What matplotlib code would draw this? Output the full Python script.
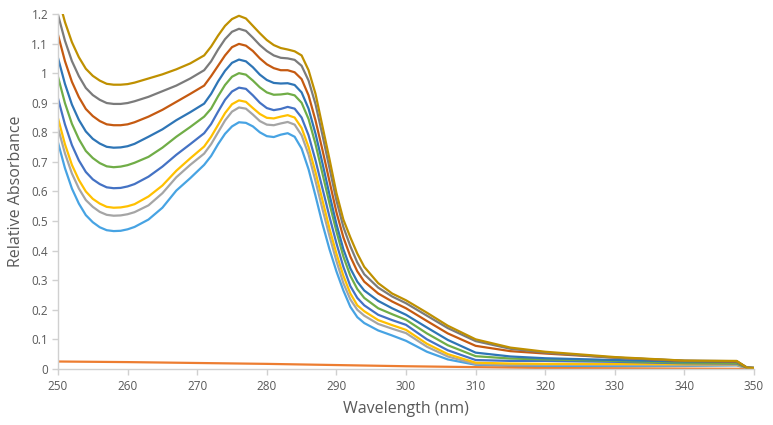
import matplotlib
matplotlib.use("Agg")
import matplotlib.pyplot as plt
from matplotlib.ticker import FuncFormatter

plt.rcParams['font.family'] = ['Open Sans', 'DejaVu Sans']

# Wavelength grid (nm)
wavelength = [250, 251, 252, 253, 254, 255, 256, 257, 258, 259, 260, 261,
              263, 265, 267, 269, 271,
              272, 273, 274, 275, 276, 277, 278, 279, 280, 281, 282, 283, 284, 285, 286, 287,
              288, 289, 290, 291, 292, 293, 294,
              296, 298, 300, 303, 306, 310, 315, 320, 330, 340, 347.5, 349, 350]

light_blue = [0.766, 0.679, 0.610, 0.559, 0.520, 0.496, 0.479, 0.469, 0.466, 0.467, 0.472, 0.480,
              0.505, 0.545, 0.603, 0.645, 0.690,
              0.720, 0.760, 0.795, 0.820, 0.834, 0.832, 0.820, 0.800, 0.787, 0.784, 0.792, 0.797,
              0.785, 0.745, 0.675, 0.585, 0.490, 0.405, 0.330, 0.265, 0.210, 0.175, 0.155,
              0.130, 0.113, 0.095, 0.058, 0.032, 0.014, 0.010, 0.009, 0.009, 0.010, 0.012, 0.003, 0.003]
gray_light = [0.815, 0.729, 0.661, 0.610, 0.571, 0.548, 0.531, 0.521, 0.518, 0.519, 0.523, 0.530,
              0.553, 0.594, 0.648, 0.690, 0.728,
              0.760, 0.800, 0.840, 0.870, 0.884, 0.880, 0.860, 0.838, 0.826, 0.824, 0.830, 0.835,
              0.826, 0.790, 0.725, 0.635, 0.540, 0.450, 0.365, 0.290, 0.235, 0.200, 0.180,
              0.152, 0.136, 0.121, 0.075, 0.042, 0.016, 0.014, 0.014, 0.013, 0.012, 0.013, 0.003, 0.003]
yellow = [0.848, 0.760, 0.690, 0.639, 0.600, 0.575, 0.559, 0.548, 0.545, 0.546, 0.550, 0.557,
          0.583, 0.620, 0.670, 0.712, 0.752,
          0.785, 0.825, 0.865, 0.895, 0.908, 0.903, 0.882, 0.862, 0.849, 0.847, 0.853, 0.858,
          0.850, 0.815, 0.750, 0.665, 0.570, 0.475, 0.390, 0.315, 0.255, 0.215, 0.195,
          0.165, 0.148, 0.132, 0.085, 0.050, 0.021, 0.018, 0.017, 0.017, 0.016, 0.016, 0.004, 0.003]
blue = [0.915, 0.827, 0.757, 0.705, 0.666, 0.641, 0.625, 0.614, 0.611, 0.612, 0.617, 0.625,
        0.650, 0.684, 0.724, 0.760, 0.797,
        0.828, 0.870, 0.910, 0.938, 0.951, 0.947, 0.925, 0.900, 0.882, 0.875, 0.879, 0.886,
        0.880, 0.850, 0.790, 0.705, 0.610, 0.515, 0.425, 0.345, 0.280, 0.240, 0.215,
        0.183, 0.165, 0.149, 0.100, 0.063, 0.030, 0.027, 0.027, 0.024, 0.019, 0.018, 0.004, 0.003]
green = [0.988, 0.899, 0.829, 0.777, 0.737, 0.713, 0.696, 0.685, 0.682, 0.684, 0.689, 0.697,
         0.717, 0.748, 0.785, 0.818, 0.853,
         0.880, 0.922, 0.960, 0.988, 1.000, 0.995, 0.975, 0.952, 0.935, 0.927, 0.928, 0.931,
         0.925, 0.900, 0.845, 0.760, 0.660, 0.560, 0.465, 0.380, 0.315, 0.270, 0.240,
         0.205, 0.185, 0.166, 0.120, 0.080, 0.043, 0.035, 0.032, 0.027, 0.021, 0.020, 0.004, 0.003]
dark_blue = [1.052, 0.964, 0.894, 0.842, 0.803, 0.778, 0.762, 0.751, 0.748, 0.749, 0.753, 0.761,
             0.785, 0.810, 0.841, 0.868, 0.897,
             0.930, 0.972, 1.008, 1.035, 1.046, 1.040, 1.020, 0.995, 0.977, 0.967, 0.965, 0.966,
             0.960, 0.935, 0.880, 0.795, 0.695, 0.590, 0.490, 0.405, 0.340, 0.295, 0.265,
             0.230, 0.205, 0.183, 0.140, 0.098, 0.055, 0.042, 0.036, 0.030, 0.025, 0.024, 0.004, 0.003]
brown = [1.130, 1.041, 0.971, 0.919, 0.879, 0.855, 0.838, 0.827, 0.824, 0.824, 0.827, 0.834,
         0.853, 0.876, 0.903, 0.930, 0.958,
         0.990, 1.025, 1.060, 1.088, 1.099, 1.093, 1.075, 1.050, 1.030, 1.017, 1.010, 1.010,
         1.003, 0.980, 0.925, 0.840, 0.740, 0.635, 0.530, 0.445, 0.380, 0.330, 0.295,
         0.255, 0.228, 0.205, 0.162, 0.120, 0.078, 0.060, 0.052, 0.038, 0.027, 0.025, 0.004, 0.003]
dark_gray = [1.198, 1.110, 1.041, 0.990, 0.950, 0.926, 0.910, 0.899, 0.896, 0.896, 0.899, 0.905,
             0.920, 0.939, 0.958, 0.982, 1.010,
             1.040, 1.080, 1.115, 1.140, 1.150, 1.143, 1.120, 1.095, 1.075, 1.060, 1.052, 1.050,
             1.045, 1.025, 0.975, 0.895, 0.790, 0.680, 0.570, 0.480, 0.415, 0.360, 0.320,
             0.275, 0.245, 0.222, 0.180, 0.138, 0.094, 0.068, 0.055, 0.038, 0.028, 0.026, 0.004, 0.003]
gold = [1.260, 1.173, 1.105, 1.054, 1.015, 0.991, 0.975, 0.964, 0.961, 0.961, 0.963, 0.968,
        0.982, 0.996, 1.013, 1.033, 1.060,
        1.090, 1.127, 1.160, 1.183, 1.194, 1.185, 1.160, 1.135, 1.112, 1.095, 1.085, 1.080,
        1.074, 1.060, 1.010, 0.930, 0.820, 0.710, 0.595, 0.505, 0.445, 0.390, 0.345,
        0.290, 0.255, 0.232, 0.190, 0.146, 0.100, 0.072, 0.058, 0.040, 0.028, 0.027, 0.004, 0.003]

baseline_wavelength = [250, 260, 270, 280, 290, 300, 310, 320, 330, 340, 350]
baseline = [0.025, 0.023, 0.020, 0.017, 0.013, 0.009, 0.006, 0.003, 0.002, 0.001, 0.000]

x_ticks = [250, 260, 270, 280, 290, 300, 310, 320, 330, 340, 350]
y_ticks = [0, 0.1, 0.2, 0.3, 0.4, 0.5, 0.6, 0.7, 0.8, 0.9, 1.0, 1.1, 1.2]

series = [
    (light_blue, "#47A3E3"),
    (None, "#ED7D31"),
    (gray_light, "#A5A5A5"),
    (yellow, "#FFC000"),
    (blue, "#4472C4"),
    (green, "#70AD47"),
    (dark_blue, "#2E75B6"),
    (brown, "#C55A11"),
    (dark_gray, "#7B7B7B"),
    (gold, "#BF9000"),
]

fig = plt.figure(figsize=(7.73, 4.25), dpi=100)
ax = fig.add_axes([0.075, 0.132, 0.9005, 0.835])

for vals, col in series:
    if vals is None:
        ax.plot(baseline_wavelength, baseline, color=col, lw=1.6, solid_capstyle='round')
    else:
        ax.plot(wavelength, vals, color=col, lw=1.6, solid_joinstyle='round',
                solid_capstyle='round')

ax.set_xlim(250, 350)
ax.set_ylim(0, 1.2)
ax.set_xticks(x_ticks)
ax.set_yticks(y_ticks)
ax.yaxis.set_major_formatter(FuncFormatter(lambda v, p: ('%g' % round(v, 1))))

for s in ['top', 'right']:
    ax.spines[s].set_visible(False)
for s in ['left', 'bottom']:
    ax.spines[s].set_color('#D0D0D0')
    ax.spines[s].set_linewidth(1.0)

ax.tick_params(axis='both', colors='#D0D0D0', labelcolor='#595959', labelsize=8.5,
               length=4, width=1.0, direction='out')
ax.tick_params(axis='x', pad=4)
ax.tick_params(axis='y', pad=3)

ax.set_xlabel('Wavelength (nm)', fontsize=11.5, color='#595959', labelpad=6)
ax.set_ylabel('Relative Absorbance', fontsize=11.5, color='#595959', labelpad=5)

fig.savefig('out.png', dpi=100, facecolor='white')
